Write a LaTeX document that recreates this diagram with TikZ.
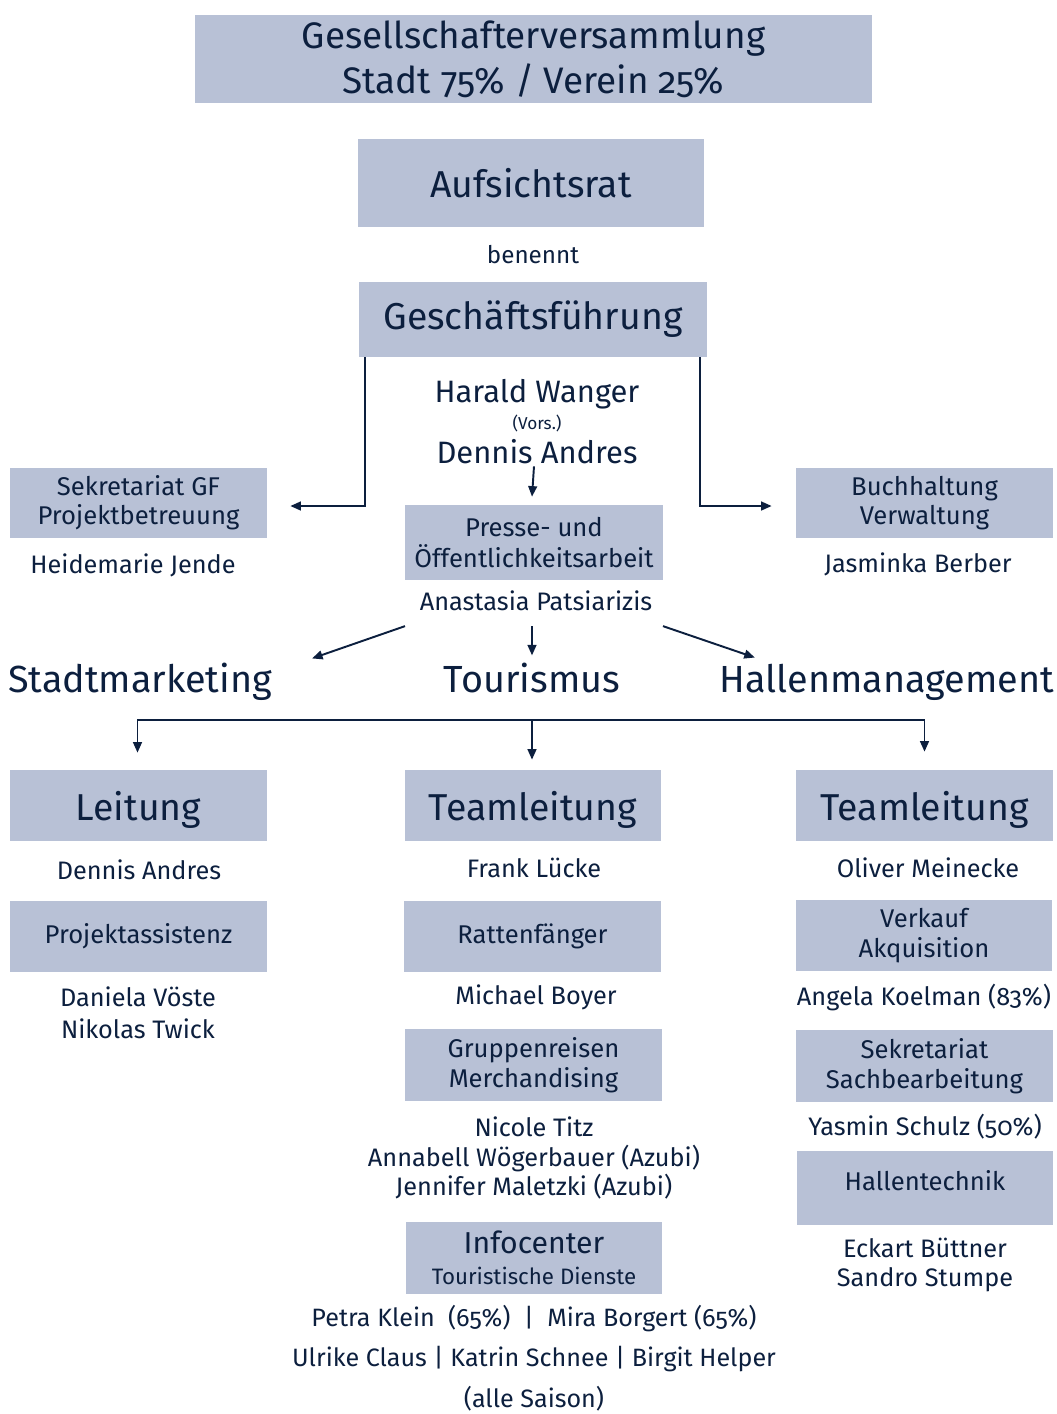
\documentclass[tikz,border=0pt]{standalone}
\usepackage{fontspec}
\setmainfont{Fira Sans}[Numbers=OldStyle]
\usepackage{tikz}
\usetikzlibrary{arrows.meta, positioning, calc}

\definecolor{navy}{HTML}{0C1F3E}
\definecolor{boxblue}{HTML}{B8C1D6}

\tikzset{
  box/.style={fill=boxblue, text=navy, align=center, inner sep=0pt,
    minimum width=5.14cm, minimum height=1.42cm, font=\fontsize{14.6}{17}\selectfont},
  bigbox/.style={box, font=\fontsize{21.3}{25}\selectfont},
  person/.style={text=navy, align=center, inner sep=1pt, font=\fontsize{14.4}{17}\selectfont},
  sparte/.style={text=navy, inner sep=1pt, anchor=base, font=\fontsize{21.5}{24}\selectfont},
  arr/.style={draw=navy, line width=1.1pt, -{Triangle[length=6pt, width=5pt]}},
}

\begin{document}
\begin{tikzpicture}[x=0.02cm, y=-0.02cm]
    \useasboundingbox (0,0) rectangle (1057,1414);

    \node[bigbox, minimum width=13.54cm, minimum height=1.76cm, font=\fontsize{21}{25.5}\selectfont] (gv) at (533.5,59) {Gesellschafterversammlung\\Stadt 75\% / Verein 25\%};
    \node[bigbox, minimum width=6.92cm, minimum height=1.76cm] (ar) at (531,183) {Aufsichtsrat};
    \node[person, font=\fontsize{13.8}{17}\selectfont] (ben) at (533,255) {benennt};
    \node[bigbox, minimum width=6.96cm, minimum height=1.5cm] (gf) at (533,319.5) {Geschäftsführung};
    \node[person, font=\fontsize{17.6}{20}\selectfont] (gfA) at (537,394) {Harald Wanger};
    \node[person, font=\fontsize{9.8}{11}\selectfont] (gfV) at (537,423) {(Vors.)};
    \node[person, font=\fontsize{17.6}{20}\selectfont] (gfB) at (537,452) {Dennis Andres};

    \node[box, minimum height=1.4cm, font=\fontsize{14.6}{16.5}\selectfont] (sekgf) at (138.5,503) {Sekretariat GF\\Projektbetreuung};
    \node[person] (sekname) at (133,565) {Heidemarie Jende};
    \node[box, minimum width=5.16cm, minimum height=1.5cm, font=\fontsize{14.6}{18}\selectfont] (presse) at (534,542.5) {Presse- und\\Öffentlichkeitsarbeit};
    \node[person] (presname) at (536,601) {Anastasia Patsiarizis};
    \node[box, minimum height=1.4cm, font=\fontsize{14.6}{16.5}\selectfont] (buch) at (924.5,503) {Buchhaltung\\Verwaltung};
    \node[person] (buchname) at (918,564) {Jasminka Berber};

    \node[sparte] (stadt) at (140,692) {Stadtmarketing};
    \node[sparte] (tour) at (532,692) {Tourismus};
    \node[sparte] (halle) at (887,692) {Hallenmanagement};

    \node[bigbox, text depth=0pt] (ltg) at (138.5,805.5) {Leitung};
    \node[person] (ltgname) at (139,870) {Dennis Andres};
    \node[bigbox, text depth=0pt] (tlT) at (533,805.5) {Teamleitung};
    \node[person] (tlTname) at (534,868) {Frank Lücke};
    \node[bigbox, text depth=0pt] (tlH) at (924.5,805.5) {Teamleitung};
    \node[person] (tlHname) at (928,868) {Oliver Meinecke};

    \node[box] (proj) at (138.5,936.5) {Projektassistenz};
    \node[person, font=\fontsize{14.4}{18}\selectfont] (projname) at (138,1013) {Daniela Vöste\\Nikolas Twick};
    \node[box] (ratten) at (532.5,936.5) {Rattenfänger};
    \node[person] (rattenname) at (536,997) {Michael Boyer};
    \node[box] (verk) at (924,935.5) {Verkauf\\Akquisition};
    \node[person] (verkname) at (924,997) {Angela Koelman (83\%)};

    \node[box, minimum height=1.44cm] (grupp) at (533.5,1065) {Gruppenreisen\\Merchandising};
    \node[person] (gruppname) at (534,1158) {Nicole Titz\\Annabell Wögerbauer (Azubi)\\Jennifer Maletzki (Azubi)};
    \node[box, minimum height=1.44cm] (sach) at (924.5,1066) {Sekretariat\\Sachbearbeitung};
    \node[person] (sachname) at (925,1127) {Yasmin Schulz (50\%)};
    \node[box, minimum width=5.12cm, minimum height=1.48cm, text depth=0.3cm] (htech) at (925,1188) {Hallentechnik};
    \node[person] (htechname) at (925,1265) {Eckart Büttner\\Sandro Stumpe};

    \node[box, minimum width=5.12cm, minimum height=1.44cm, font=\fontsize{17.2}{17.5}\selectfont] (info) at (534,1258) {Infocenter\\{\fontsize{12.7}{14}\selectfont Touristische Dienste}};
    \node[person, font=\fontsize{14.3}{23}\selectfont] (infoname) at (534,1358) {Petra Klein\ \ (65\%)\ \ |\ \ Mira Borgert (65\%)\\Ulrike Claus | Katrin Schnee | Birgit Helper\\(alle Saison)};

    \draw[arr] ($(gf.south west)+(6,0)$) |- ($(sekgf.east)+(23,3)$);
    \draw[arr] ($(gf.south east)+(-7,0)$) |- ($(buch.west)+(-24,3)$);
    \draw[arr] (gfB.south -| presse.north) -- ($(presse.north)+(-2,-8)$);

    \coordinate (apL) at ($(presname.south)+(-131,13)$);
    \coordinate (apM) at ($(presname.south)+(-4,13)$);
    \coordinate (apR) at ($(presname.south)+(127,13)$);
    \draw[arr] (apL) -- ($(stadt.north east)+(38,-2)$);
    \draw[arr] (apM) -- ($(tour.north)+(0,-5)$);
    \draw[arr] (apR) -- ($(halle.north west)+(37,-4)$);

    \coordinate (bus) at ($(tour.base)+(0,28)$);
    \draw[arr] (bus) -| ($(ltg.north)+(-1,-17)$);
    \draw[arr] (bus) -| ($(tlH.north)+(0,-18)$);
    \draw[arr] (bus) -- ($(tlT.north)+(-1,-10)$);
  \end{tikzpicture}
\end{document}
